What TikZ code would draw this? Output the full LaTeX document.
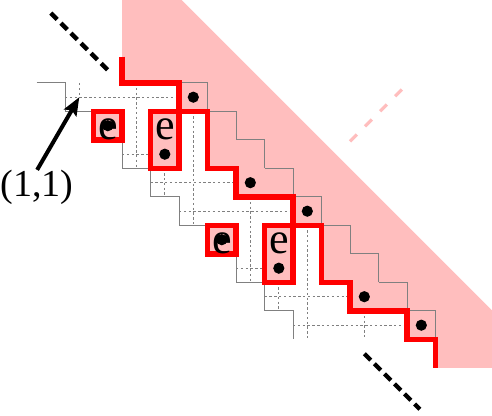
\documentclass[tikz,border=0pt]{standalone}
\usepackage{fontspec}
\setmainfont{Liberation Serif}
\usetikzlibrary{arrows.meta}
\definecolor{rosa}{RGB}{255,190,190}

\begin{document}
\begin{tikzpicture}[x=5mm, y=-5mm,
    stairline/.style={gray, line width=0.5pt},
    hookline/.style={gray, line width=0.45pt, dash pattern=on 1.2pt off 1.2pt},
    redpath/.style={red, line width=2.6pt},
    ebox/.style={draw=red, fill=rosa, line width=2.6pt},
    rookdot/.style={fill=black},
    elabel/.style={anchor=base, inner sep=0pt, font=\fontsize{22}{22}\selectfont},
    contdash/.style={line width=2.2pt, dash pattern=on 4.5pt off 2.6pt}]
    \useasboundingbox (-4.283,-2.91) rectangle (12.98,11.651);
    \clip (-4.283,-2.91) rectangle (12.98,11.651);
    \fill[rosa] (0,-3) -- (2,-3) -- (14,9) -- (14,10) -- (11,10) -- (11,9) -- (10,9)
        -- (10,8) -- (8,8) -- (8,7) -- (7,7) -- (7,5) -- (6,5) -- (6,4) -- (4,4)
        -- (4,3) -- (3,3) -- (3,1) -- (2,1) -- (2,0) -- (0,0) -- cycle;
    \draw[rosa, line width=1.6pt, dash pattern=on 4.8pt off 5.8pt] (8,2.05) -- (9.82,0.23);
    \foreach \k in {2,...,10}
        \draw[stairline] (\k,\k-2) -- (\k+1,\k-2) -- (\k+1,\k-1);
    \draw[stairline] (-3,0) -- (-2,0) -- (-2,1) -- (-1,1);
    \draw[stairline] (0,2) -- (0,3) -- (1,3) -- (1,4) -- (2,4) -- (2,5) -- (3,5);
    \draw[stairline] (4,6) -- (4,7) -- (5,7) -- (5,8) -- (6,8) -- (6,9);
    \foreach \a/\b in {{-2,0.5}/{2,0.5}, {-1.5,0}/{-1.5,0.5}, {0.5,0}/{0.5,3},
        {0,2.5}/{1,2.5}, {1.5,3}/{1.5,4}, {2.5,1}/{2.5,5}, {1,3.5}/{4,3.5},
        {4.5,4}/{4.5,7}, {2,4.5}/{6,4.5}, {6.5,5}/{6.5,9}, {4,6.5}/{5,6.5},
        {5.5,7}/{5.5,8}, {5,7.5}/{8,7.5}, {8.5,8}/{8.5,9}, {6,8.5}/{10,8.5}}
        \draw[hookline] (\a) -- (\b);
    \draw[ebox] (-1,1) rectangle (0,2);
    \draw[ebox] (1,1) rectangle (2,3);
    \draw[ebox] (3,5) rectangle (4,6);
    \draw[ebox] (5,5) rectangle (6,7);
    \draw[redpath] (0,-0.92) -- (0,0) -- (2,0) -- (2,1) -- (3,1) -- (3,3) -- (4,3)
        -- (4,4) -- (6,4) -- (6,5) -- (7,5) -- (7,7) -- (8,7) -- (8,8) -- (10,8)
        -- (10,9) -- (11,9) -- (11,10);
    \foreach \p in {{2.5,0.5}, {-0.5,1.5}, {1.5,2.5}, {4.5,3.5}, {6.5,4.5},
        {3.5,5.5}, {5.5,6.5}, {8.5,7.5}, {10.5,8.5}}
        \fill[rookdot] (\p) circle (2.8pt);
    \node[elabel] (e1) at (-0.5,2.0) {e};
    \node[elabel] (e2) at (1.5,2.0) {e};
    \node[elabel] (e3) at (3.5,6.0) {e};
    \node[elabel] (e4) at (5.5,6.0) {e};
    \draw[contdash] (-2.5,-2.45) -- (-0.5,-0.45);
    \draw[contdash] (8.5,9.5) -- (10.45,11.45);
    \coordinate (c11) at (-1.5,0.5);
    \node[anchor=north, inner sep=0pt, font=\fontsize{19}{19}\selectfont] (lbl) at (-2.98,3.05) {(1,1)};
    \draw[line width=2pt, -{Stealth[length=9pt, width=7pt, inset=1.5pt]}] (lbl.north) -- (c11);
\end{tikzpicture}
\end{document}
